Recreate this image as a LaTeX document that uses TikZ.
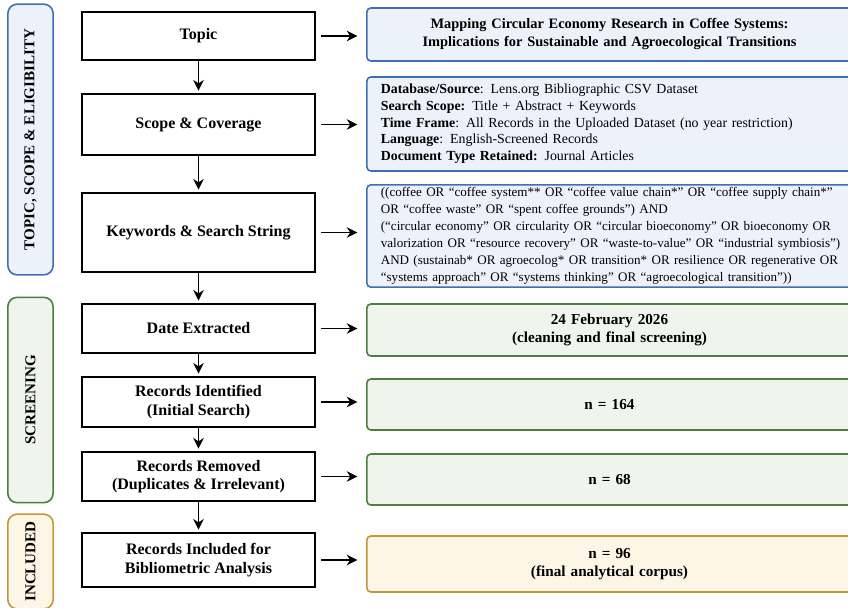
\documentclass[tikz,border=0pt]{standalone}
\usepackage{fontspec}
\setmainfont{Liberation Serif}
\usetikzlibrary{arrows.meta}

\definecolor{topicblue}{HTML}{3F6FB6}
\definecolor{topicfill}{HTML}{EDF2FA}
\definecolor{screengreen}{HTML}{4F7F3F}
\definecolor{screenfill}{HTML}{EFF4EC}
\definecolor{inclgold}{HTML}{C4963A}
\definecolor{inclfill}{HTML}{FDF6E6}

\begin{document}
\begin{tikzpicture}[x=0.75pt, y=-0.75pt, >={Stealth[length=8pt,width=8pt]},
  stage/.style={draw=black, line width=1.1pt, fill=white, minimum width=175pt, align=center, font=\fontsize{12}{14}\selectfont\bfseries},
  info/.style={line width=1.2pt, rounded corners=3pt, text width=343pt, inner xsep=10.5pt, inner ysep=2pt, font=\fontsize{10.4}{12.5}\selectfont},
  bluebox/.style={info, draw=topicblue, fill=topicfill},
  greenbox/.style={info, draw=screengreen, fill=screenfill, align=center, font=\fontsize{11.4}{13.2}\selectfont\bfseries},
  goldbox/.style={info, draw=inclgold, fill=inclfill, align=center, font=\fontsize{11.4}{13.2}\selectfont\bfseries},
  phase/.style={rotate=90, rounded corners=7pt, line width=1.2pt, minimum height=34pt, font=\fontsize{11.3}{13}\selectfont\bfseries},
  flow/.style={->, line width=1.2pt, shorten >=2pt},
  side/.style={->, line width=1.2pt, shorten <=4pt, shorten >=6.5pt}]
  \clip (0,0) rectangle (848,607);
  \fill[white] (0,0) rectangle (848,607);

  % Phasen links
  \node[phase, draw=topicblue, fill=topicfill, minimum width=203pt] (phTopic) at (30.5,139.5) {TOPIC, SCOPE \& ELIGIBILITY};
  \node[phase, draw=screengreen, fill=screenfill, minimum width=154pt] (phScreen) at (30.5,400) {SCREENING};
  \node[phase, draw=inclgold, fill=inclfill, minimum width=71pt] (phIncl) at (30.5,561.5) {INCLUDED};

  % Schritte Mitte
  \node[stage, minimum height=36pt] (topic) at (198.5,36) {Topic};
  \node[stage, minimum height=45.75pt] (scope) at (198.5,124.5) {Scope \& Coverage};
  \node[stage, minimum height=59.25pt] (keywords) at (198.5,232.5) {Keywords \& Search String};
  \node[stage, minimum height=36.75pt] (date) at (198.5,328.5) {Date Extracted};
  \node[stage, minimum height=37.5pt] (identified) at (198.5,402) {Records Identified\\(Initial Search)};
  \node[stage, minimum height=36.75pt] (removed) at (198.5,476.5) {Records Removed\\(Duplicates \& Irrelevant)};
  \node[stage, minimum height=40.5pt] (included) at (198.5,560) {Records Included for\\Bibliometric Analysis};

  % Inhalte rechts
  \node[bluebox, align=center, font=\fontsize{10.8}{13.5}\selectfont\bfseries, minimum height=39.75pt] (topicR) at (609.5,34.5)
    {Mapping Circular Economy Research in Coffee Systems:\\Implications for Sustainable and Agroecological Transitions};
  \node[bluebox, align=left, minimum height=70.5pt] (scopeR) at (609.5,124)
    {\textbf{Database/Source}: Lens.org Bibliographic CSV Dataset\\
     \textbf{Search Scope:} Title + Abstract + Keywords\\
     \textbf{Time Frame}: All Records in the Uploaded Dataset (no year restriction)\\
     \textbf{Language}: English-Screened Records\\
     \textbf{Document Type Retained:} Journal Articles};
  \node[bluebox, align=left, minimum height=76.5pt, font=\fontsize{9.8}{12.75}\selectfont] (keywordsR) at (609.5,236)
    {\mbox{((coffee OR “coffee system** OR “coffee value chain*” OR “coffee supply chain*”}\\
     \mbox{OR “coffee waste” OR “spent coffee grounds”) AND}\\
     \mbox{(“circular economy” OR circularity OR “circular bioeconomy” OR bioeconomy OR}\\
     \mbox{valorization OR “resource recovery” OR “waste-to-value” OR “industrial symbiosis”)}\\
     \mbox{AND (sustainab* OR agroecolog* OR transition* OR resilience OR regenerative OR}\\
     \mbox{“systems approach" OR “systems thinking” OR “agroecological transition”))}};
  \node[greenbox, minimum height=39pt] (dateR) at (609.5,330) {24 February 2026\\(cleaning and final screening)};
  \node[greenbox, minimum height=38.25pt] (identifiedR) at (609.5,404.5) {n = 164};
  \node[greenbox, minimum height=38.25pt] (removedR) at (609.5,479.5) {n = 68};
  \node[goldbox, minimum height=42pt] (includedR) at (609.5,564) {n = 96\\(final analytical corpus)};

  % Pfeile nach unten
  \draw[flow] (topic) -- (scope);
  \draw[flow] (scope) -- (keywords);
  \draw[flow] (keywords) -- (date);
  \draw[flow] (date) -- (identified);
  \draw[flow] (identified) -- (removed);
  \draw[flow] (removed) -- (included);

  % Pfeile nach rechts
  \foreach \s in {topic, scope, keywords, date, identified, removed, included}
    \draw[side] (\s.east) -- (\s.east -| \s R.west);
\end{tikzpicture}
\end{document}
